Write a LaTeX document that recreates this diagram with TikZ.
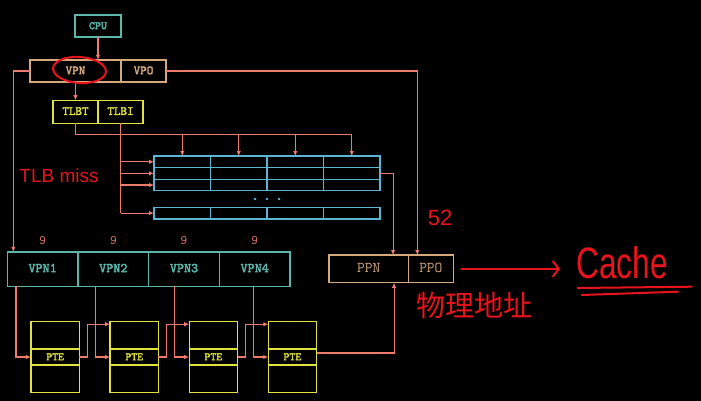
\documentclass[tikz,border=0pt]{standalone}
\usepackage{fontspec}
\setsansfont{Liberation Sans}
\newfontfamily\cjkhand{Noto Sans CJK SC}
\newfontfamily\mmufont{lmmono10-regular.otf}[FakeBold=2.5]
\usepackage{xcolor}
\usepackage{tikz}
\usetikzlibrary{arrows.meta,calc,positioning}
\definecolor{mmuback}{HTML}{000000}
\definecolor{mmuline}{HTML}{EE7B6C}
\definecolor{mmuteal}{HTML}{5BB7AC}
\definecolor{mmublue}{HTML}{5AB6D2}
\definecolor{mmuyellow}{HTML}{E2E23E}
\definecolor{mmutan}{HTML}{D6A97C}
\definecolor{mmuhand}{HTML}{E8141C}
\tikzset{%
  mmubox/.style={%
    draw,
    inner sep=0pt,
    outer sep=0pt,
    line width=1.3pt,
    text height=1.6ex,
    text depth=0.1ex,
    font=\mmufont\fontsize{12.5}{12.5}\selectfont
  },
  mmucpu/.style={mmubox,draw=mmuteal,text=mmuteal,minimum width=46pt,minimum height=22pt,
    font=\mmufont\fontsize{11.4}{11.4}\selectfont},
  mmuva/.style={mmubox,draw=mmutan,text=mmutan,minimum height=22pt},
  mmutlb/.style={mmubox,draw=mmuyellow,text=mmuyellow,minimum width=45pt,minimum height=23pt},
  mmuentry/.style={mmubox,draw=mmublue,minimum width=56.5pt,minimum height=11.6pt},
  mmuvpn/.style={mmubox,draw=mmuteal,text=mmuteal,minimum width=70.7pt,minimum height=34.3pt,
    font=\mmufont\fontsize{13.5}{13.5}\selectfont},
  mmupte/.style={mmubox,draw=mmuyellow,text=mmuyellow,minimum width=48.3pt,
    font=\mmufont\fontsize{11.2}{11.2}\selectfont},
  mmupa/.style={mmubox,draw=mmutan,text=mmutan,minimum height=27.7pt,
    font=\ttfamily\fontsize{15}{15}\selectfont},
  mmunote/.style={text=mmuline,inner sep=0pt,font=\ttfamily\fontsize{13}{13}\selectfont},
  mmuhand/.style={text=mmuhand,inner sep=0pt},
  mmuline/.style={draw=mmuline,line width=1.1pt},
  mmuarrow/.style={-{Latex[length=5pt,width=4.5pt]},draw=mmuline,line width=1.1pt},
  mmuhandline/.style={draw=mmuhand,line width=2pt,line cap=round},
  mmuhandarrow/.style={-{Straight Barb[length=6pt,width=16pt]},draw=mmuhand,line width=2pt,line cap=round}
}
\begin{document}
\begin{tikzpicture}[x=1pt,y=-1pt]
    \fill[mmuback] (0,0) rectangle (701,401);
    \useasboundingbox (0,0) rectangle (701,401);

    % virtual address
    \node[mmucpu] (cpu) at (98,26) {CPU};
    \node[mmuva,minimum width=91pt] (vpn) at (75.5,71) {VPN};
    \node[mmuva,minimum width=45pt,right=0pt of vpn] (vpo) {VPO};
    \node[mmutlb] (tlbt) at (75.5,111.7) {TLBT};
    \node[mmutlb,right=0pt of tlbt] (tlbi) {TLBI};

    % TLB
    \foreach \r/\y in {1/161.8,2/173.4,3/185,4/213.1}
      \foreach \c in {1,...,4}
        \node[mmuentry] (t-\r-\c) at ({182.25+(\c-1)*56.5},\y) {};
    \foreach \x in {255,267,279}
      \fill[mmublue] (\x,199) circle (1.4pt);

    % page table walk
    \foreach \k in {1,...,4} {
      \node[mmuvpn] (vpn\k) at ({42.65+(\k-1)*70.7},269) {VPN\k};
      \node[mmunote] (bits\k) at ({42.65+(\k-1)*70.7},241) {9};
      \node[mmupte,minimum height=16pt] (pte\k) at ({55.15+(\k-1)*79.1},357) {PTE};
      \node[mmupte,minimum height=27.3pt,above=0pt of pte\k] (ptetop\k) {};
      \node[mmupte,minimum height=27.7pt,below=0pt of pte\k] (ptebot\k) {};
      \coordinate (drop\k) at ([xshift=-15pt]pte\k.west);
    }

    % physical address
    \node[mmupa,minimum width=79.3pt] (ppn) at (368.7,268.9) {PPN};
    \node[mmupa,minimum width=45pt,right=0pt of ppn] (ppo) {PPO};

    \draw[mmuarrow] (cpu.south) -- (cpu.south |- vpn.north);
    \draw[mmuarrow] (vpn.south) -- (tlbt.north);
    \draw[mmuarrow] (vpn.west) -| ([xshift=6pt]vpn1.north west);
    \draw[mmuarrow] (vpo.east) -| ([xshift=9pt]ppo.north west);

    \coordinate (tagbus) at ($(tlbt.south)+(0,11)$);
    \draw[mmuline] (tlbt.south) |- (t-1-4.north |- tagbus);
    \foreach \c in {1,...,4}
      \draw[mmuarrow] (t-1-\c.north |- tagbus) -- (t-1-\c.north);
    \draw[mmuline] (tlbi.south) -- (tlbi.south |- t-4-1.west);
    \foreach \r in {1,...,4}
      \draw[mmuarrow] (tlbi.south |- t-\r-1.west) -- (t-\r-1.west);
    \draw[mmuarrow] (t-2-4.east) -| ([xshift=-15.3pt]ppn.north east);

    \foreach \k in {1,...,4}
      \draw[mmuarrow] (drop\k |- vpn\k.south) -- (drop\k) -- (pte\k.west);
    \foreach \k/\n in {1/2,2/3,3/4}
      \draw[mmuarrow] (pte\k.east) -- ++(8,0) |- ([yshift=-2.5pt]ptetop\n.north west);
    \draw[mmuarrow] ([yshift=4pt]pte4.east) -| ([xshift=-14.3pt]ppn.south east);

    % handwritten notes
    \draw[mmuhandline,rotate around={-4:(79.5,70)}] (79.5,70) ellipse (26.5pt and 13pt);
    \node[mmuhand,font=\sffamily\fontsize{19}{19}\selectfont] (tlbmiss) at (59,176) {TLB miss};
    \node[mmuhand,font=\sffamily\fontsize{22}{22}\selectfont] (width52) at (440,218) {52};
    \node[mmuhand,anchor=base west,xscale=0.72,font=\sffamily\fontsize{44}{44}\selectfont] (cache) at (576,278) {Cache};
    \draw[mmuhandarrow] ([xshift=8pt]ppo.east) -- ([xshift=-16pt]cache.west |- ppo.east);
    \draw[mmuhandline] (577.7,288) -- (691.7,286.7);
    \draw[mmuhandline] (581.7,295) -- (678,291.7);
    \node[mmuhand,font=\cjkhand\fontsize{29}{29}\selectfont] (physaddr) at (474,305) {物理地址};
  \end{tikzpicture}
\end{document}
